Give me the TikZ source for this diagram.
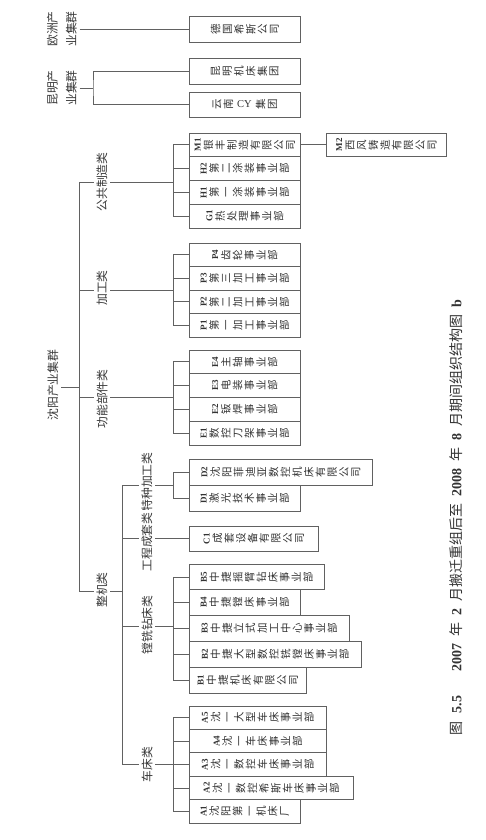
\documentclass[tikz,border=0pt]{standalone}
\usepackage{fontspec}
\setmainfont{Liberation Serif}
\newfontfamily\cjk{Noto Sans CJK SC}
\usepackage{graphicx}
\usetikzlibrary{positioning}

\newcommand\boxfont{\cjk\fontsize{10.5}{11.7}\selectfont}
\newcommand\labfont{\cjk\fontsize{11.8}{13}\selectfont}
\newcommand\codefont{\rmfamily\bfseries\fontsize{9}{10}\selectfont}
\protected\def\rlat#1{\rotatebox[origin=c]{-90}{\rmfamily #1}}
\newcommand\bn[1]{{\rmfamily\bfseries #1}}

% vertical text: code on top, then one character per line
\makeatletter
\newcommand\vtxt[2]{%
  \vbox{%
    \edef\vt@code{#1}%
    \ifx\vt@code\@empty\else\hbox to 1em{\hss{\codefont\vt@code}\hss}\fi
    \edef\vt@list{#2}%
    \expandafter\@tfor\expandafter\vt@c\expandafter:\expandafter=\vt@list\do{\hbox to 1em{\hss\vt@c\hss}}%
  }}
\makeatother

\begin{document}
\begin{tikzpicture}[
  x=1pt, y=-1pt,
  conn/.style={draw=black!62, line width=0.8pt},
  orgbox/.style={draw=black!62, line width=0.8pt, rotate=90, anchor=north,
    inner sep=0pt, font=\boxfont, text=black!80},
  cat/.style={rotate=90, fill=white, inner sep=2.5pt, font=\labfont, text=black!78},
]
  \useasboundingbox (0,0) rectangle (485,840);
  \def\bx{189}   % left edge of the boxes
  \def\brx{173}  % group brackets
  \def\tx{79}    % main trunk
  \def\sx{122}   % trunk below the machine-tool class

  % Europe and Kunming clusters
  \node[cat, align=center] (eu) at (62,29) {欧洲产\\[6pt]业集群};
  \node[orgbox, minimum width=26, minimum height=111] (DG) at (\bx,29) {\vtxt{}{德国希斯公司}};
  \draw[conn] (eu) -- (DG.north);
  \node[cat, align=center] (km) at (62,88) {昆明产\\[6pt]业集群};
  \node[orgbox, minimum width=26, minimum height=111] (KM1) at (\bx,71) {\vtxt{}{昆明机床集团}};
  \node[orgbox, minimum width=25, minimum height=111] (KM2) at (\bx,104.5) {\vtxt{}{云南{\rlat{\kern3pt CY\kern3pt}}集团}};
  \coordinate (brK) at (93,88);
  \draw[conn] (km) -- (brK);
  \draw[conn] (KM1.north) -| (brK) |- (KM2.north);

  % Shenyang cluster: root and main trunk
  \node[cat] (root) at (53,385) {沈阳产业集群};
  \coordinate (trunk) at (\tx,387);
  \draw[conn] (root.south |- trunk) -- (trunk);
  \node[cat] (catM) at (102,182) {公共制造类};
  \node[cat] (catP) at (102,288) {加工类};
  \node[cat] (catE) at (102,399) {功能部件类};
  \node[cat] (catZ) at (102,590) {整机类};
  \coordinate (jM) at (\tx,182);
  \coordinate (jP) at (\tx,290);
  \coordinate (jE) at (\tx,397);
  \coordinate (jZ) at (\tx,591);
  \draw[conn] (jM) -- (jZ);
  \foreach \k in {M,P,E,Z}
    \draw[conn] (j\k) -- (j\k -| cat\k.north);
  \foreach \k in {M,P,E} {
    \coordinate (br\k) at (\brx,0 |- j\k);
    \draw[conn] (j\k -| cat\k.south) -- (br\k);
  }

  % 公共制造类: boxes 23.75 high from y=133
  \def\gtop{133}\def\gh{23.75}
  \foreach \c/\t/\l [count=\i] in {M1/银丰制造有限公司/111, H2/第二涂装事业部/111,
      H1/第一涂装事业部/111, G1/热处理事业部/111}
    \node[orgbox, minimum width=\gh, minimum height=\l] (\c) at (\bx,{\gtop+(\i-0.5)*\gh}) {\vtxt{\c}{\t}};
  \foreach \c in {M1,H2,H1,G1}
    \draw[conn] (\c.north -| brM) -- (\c.north);
  \draw[conn] (M1.north -| brM) -- (G1.north -| brM);
  \node[orgbox, minimum width=\gh, minimum height=120] (M2) at (326,144.875) {\vtxt{M2}{西风铸造有限公司}};
  \draw[conn] (M1.south) -- (M2.north);

  % 加工类
  \def\gtop{243}\def\gh{23.5}
  \foreach \c/\t/\l [count=\i] in {P4/齿轮事业部/111, P3/第三加工事业部/111,
      P2/第二加工事业部/111, P1/第一加工事业部/111}
    \node[orgbox, minimum width=\gh, minimum height=\l] (\c) at (\bx,{\gtop+(\i-0.5)*\gh}) {\vtxt{\c}{\t}};
  \foreach \c in {P4,P3,P2,P1}
    \draw[conn] (\c.north -| brP) -- (\c.north);
  \draw[conn] (P4.north -| brP) -- (P1.north -| brP);

  % 功能部件类
  \def\gtop{350}\def\gh{23.75}
  \foreach \c/\t/\l [count=\i] in {E4/主轴事业部/111, E3/电装事业部/111,
      E2/钣焊事业部/111, E1/数控刀架事业部/111}
    \node[orgbox, minimum width=\gh, minimum height=\l] (\c) at (\bx,{\gtop+(\i-0.5)*\gh}) {\vtxt{\c}{\t}};
  \foreach \c in {E4,E3,E2,E1}
    \draw[conn] (\c.north -| brE) -- (\c.north);
  \draw[conn] (E4.north -| brE) -- (E1.north -| brE);

  % 整机类 and its four classes
  \coordinate (sub) at (\sx,591);
  \draw[conn] (jZ -| catZ.south) -- (sub);
  \node[cat] (catD) at (147,482) {特种加工类};
  \node[cat] (catC) at (147,542) {工程成套类};
  \node[cat] (catB) at (147,625) {镗铣钻床类};
  \node[cat] (catA) at (147,764.5) {车床类};
  \coordinate (jD) at (\sx,485);
  \coordinate (jC) at (\sx,538.5);
  \coordinate (jB) at (\sx,626);
  \coordinate (jA) at (\sx,764.5);
  \draw[conn] (jD) -- (jA);
  \foreach \k in {D,C,B,A}
    \draw[conn] (j\k) -- (j\k -| cat\k.north);
  \foreach \k in {D,B,A} {
    \coordinate (br\k) at (\brx,0 |- j\k);
    \draw[conn] (j\k -| cat\k.south) -- (br\k);
  }

  % 特种加工类
  \def\gtop{459}\def\gh{26}
  \foreach \c/\t/\l [count=\i] in {D2/沈阳菲迪亚数控机床有限公司/183, D1/激光技术事业部/111}
    \node[orgbox, minimum width=\gh, minimum height=\l] (\c) at (\bx,{\gtop+(\i-0.5)*\gh}) {\vtxt{\c}{\t}};
  \foreach \c in {D2,D1}
    \draw[conn] (\c.north -| brD) -- (\c.north);
  \draw[conn] (D2.north -| brD) -- (D1.north -| brD);

  % 工程成套类
  \node[orgbox, minimum width=25, minimum height=129] (C1) at (\bx,538.5) {\vtxt{C1}{成套设备有限公司}};
  \draw[conn] (jC -| catC.south) -- (C1.north);

  % 镗铣钻床类
  \def\gtop{564}\def\gh{25.8}
  \foreach \c/\t/\l [count=\i] in {B5/中捷摇臂钻床事业部/135, B4/中捷镗床事业部/111,
      B3/中捷立式加工中心事业部/160, B2/中捷大型数控铣镗床事业部/172, B1/中捷机床有限公司/117}
    \node[orgbox, minimum width=\gh, minimum height=\l] (\c) at (\bx,{\gtop+(\i-0.5)*\gh}) {\vtxt{\c}{\t}};
  \foreach \c in {B5,B4,B3,B2,B1}
    \draw[conn] (\c.north -| brB) -- (\c.north);
  \draw[conn] (B5.north -| brB) -- (B1.north -| brB);

  % 车床类
  \def\gtop{706}\def\gh{23.4}
  \foreach \c/\t/\l [count=\i] in {A5/沈一大型车床事业部/137, A4/沈一车床事业部/137,
      A3/沈一数控车床事业部/137, A2/沈一数控希斯车床事业部/164, A1/沈阳第一机床厂/111}
    \node[orgbox, minimum width=\gh, minimum height=\l] (\c) at (\bx,{\gtop+(\i-0.5)*\gh}) {\vtxt{\c}{\t}};
  \foreach \c in {A5,A4,A3,A2,A1}
    \draw[conn] (\c.north -| brA) -- (\c.north);
  \draw[conn] (A5.north -| brA) -- (A1.north -| brA);

  % caption
  \node[rotate=90, font=\cjk\fontsize{14}{16}\selectfont, text=black!80] (cap) at (456,517.5)
    {图\hspace{8pt}\bn{5.5}\hspace{24pt}\bn{2007}\hspace{7pt}年\hspace{7pt}\bn{2}\hspace{7pt}月搬迁重组后至\hspace{7pt}\bn{2008}\hspace{7pt}年\hspace{7pt}\bn{8}\hspace{7pt}月期间组织结构图\hspace{7pt}\bn{b}};
\end{tikzpicture}
\end{document}
